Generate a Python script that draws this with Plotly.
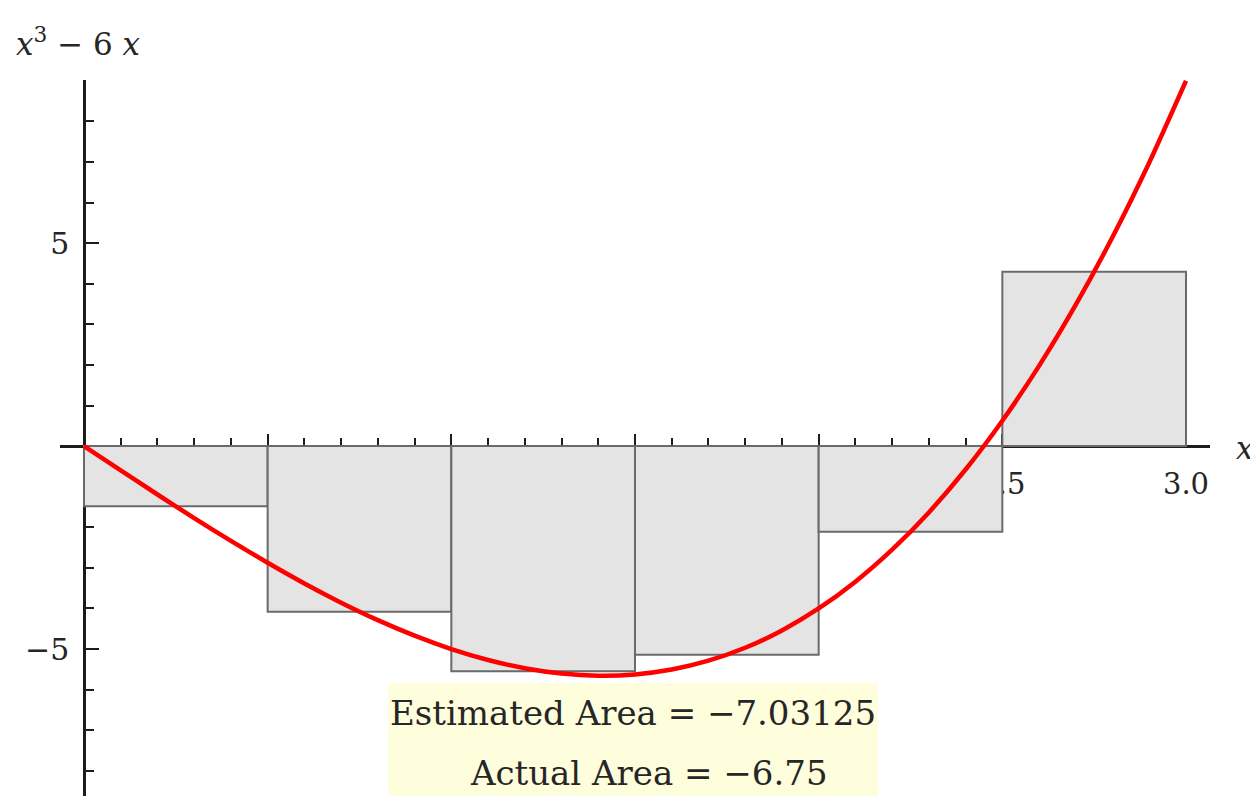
import plotly.graph_objects as go

# ---- data ----
rect_mid_x = [0.25, 0.75, 1.25, 1.75, 2.25, 2.75]
rect_height = [-1.484, -4.078, -5.547, -5.141, -2.109, 4.297]
rect_width = 0.5

curve_x = [0.0, 0.1, 0.2, 0.3, 0.4, 0.5, 0.6, 0.7, 0.8, 0.9, 1.0,
           1.1, 1.2, 1.3, 1.4, 1.5, 1.6, 1.7, 1.8, 1.9, 2.0,
           2.1, 2.2, 2.3, 2.4, 2.5, 2.6, 2.7, 2.8, 2.9, 3.0]
curve_y = [0.0, -0.599, -1.192, -1.773, -2.336, -2.875, -3.384, -3.857, -4.288, -4.671, -5.0,
           -5.269, -5.472, -5.603, -5.656, -5.625, -5.504, -5.287, -4.968, -4.541, -4.0,
           -3.339, -2.552, -1.633, -0.576, 0.625, 1.976, 3.483, 5.152, 6.989, 9.0]

x_tick_vals = [0.5, 1.0, 1.5, 2.0, 2.5, 3.0]
x_tick_text = ["0.5", "1.0", "1.5", "2.0", "2.5", "3.0"]
x_minor_vals = [round(0.1 * i, 1) for i in range(1, 31)]
y_tick_vals = [-5, 5]
y_tick_text = ["\u22125", "5"]
y_minor_vals = [-8, -7, -6, -5, -4, -3, -2, -1, 1, 2, 3, 4, 5, 6, 7, 8, 9]

estimated_text = "Estimated Area = \u22127.03125"
actual_text = "Actual Area = \u22126.75"
y_label = "<i>x</i><sup>3</sup> \u2212 6 <i>x</i>"
x_label = "<i>x</i>"

x_range = [-0.0653, 3.0653]
y_range = [-8.62, 9.02]

# ---- layout geometry (page has an 8px body offset) ----
OFF = 8
W, H = 1258, 796
ML, MR, MT, MB = 52, 56, 72, 8
PW, PH = W - ML - MR, H - MT - MB


def px_x(p):
    return (p - OFF - ML) / PW


def px_y(p):
    return (H - MB - (p - OFF)) / PH


FONT = "DejaVu Serif"
AX = "#1c1c1c"
TXT = "#262626"

fig = go.Figure()
fig.add_trace(go.Bar(
    x=rect_mid_x, y=rect_height, width=rect_width,
    marker=dict(color="#E4E4E4", line=dict(color="#6A6A6A", width=2)),
    hoverinfo="skip", showlegend=False,
))
fig.add_trace(go.Scatter(
    x=curve_x, y=curve_y, mode="lines",
    line=dict(color="#FF0000", width=4.5, shape="spline", smoothing=0.6),
    hoverinfo="skip", showlegend=False,
))

x0_paper_y = (0 - y_range[0]) / (y_range[1] - y_range[0])
y0_paper_x = (0 - x_range[0]) / (x_range[1] - x_range[0])

fig.update_layout(
    width=W, height=H,
    margin=dict(l=ML, r=MR, t=MT, b=MB, pad=0, autoexpand=False),
    plot_bgcolor="white", paper_bgcolor="white",
    showlegend=False,
    hovermode=False,
    xaxis=dict(
        range=x_range, anchor="free", position=x0_paper_y, automargin=False,
        showgrid=False, zeroline=False,
        showline=True, linecolor=AX, linewidth=2.5,
        tickmode="array", tickvals=x_tick_vals, ticktext=x_tick_text,
        ticks="inside", ticklen=11, tickwidth=2, tickcolor=AX,
        ticklabelstandoff=11,
        tickfont=dict(family=FONT, size=29, color=TXT),
        minor=dict(tickmode="array", tickvals=x_minor_vals, ticks="inside",
                   ticklen=7, tickwidth=2, tickcolor=AX),
        layer="below traces",
    ),
    yaxis=dict(
        range=y_range, anchor="free", position=y0_paper_x, automargin=False,
        showgrid=False, zeroline=False,
        showline=True, linecolor=AX, linewidth=2.5,
        tickmode="array", tickvals=y_tick_vals, ticktext=y_tick_text,
        ticks="inside", ticklen=13, tickwidth=2, tickcolor=AX,
        ticklabelstandoff=8,
        tickfont=dict(family=FONT, size=30, color=TXT),
        minor=dict(tickmode="array", tickvals=y_minor_vals, ticks="inside",
                   ticklen=8, tickwidth=2, tickcolor=AX),
        layer="below traces",
    ),
)

fig.add_annotation(
    text=y_label, xref="paper", yref="paper",
    x=px_x(14), y=px_y(42), xanchor="left", yanchor="middle",
    showarrow=False, font=dict(family=FONT, size=31, color=TXT),
)
fig.add_annotation(
    text=x_label, xref="paper", yref="paper",
    x=px_x(1234), y=px_y(448), xanchor="left", yanchor="middle",
    showarrow=False, font=dict(family=FONT, size=31, color=TXT),
)

BOX = "#FEFDDC"
fig.add_annotation(
    text=estimated_text, xref="paper", yref="paper",
    x=px_x(633), y=px_y(683), xanchor="center", yanchor="top",
    width=490, height=59, valign="middle", align="center",
    bgcolor=BOX, borderpad=0, borderwidth=0,
    showarrow=False, font=dict(family=FONT, size=34, color=TXT),
)
fig.add_annotation(
    text="&nbsp;&nbsp;&nbsp;" + actual_text, xref="paper", yref="paper",
    x=px_x(633), y=px_y(742), xanchor="center", yanchor="top",
    width=490, height=62, valign="middle", align="center",
    bgcolor=BOX, borderpad=0, borderwidth=0,
    showarrow=False, font=dict(family=FONT, size=34, color=TXT),
)

fig.write_html("out.html")
